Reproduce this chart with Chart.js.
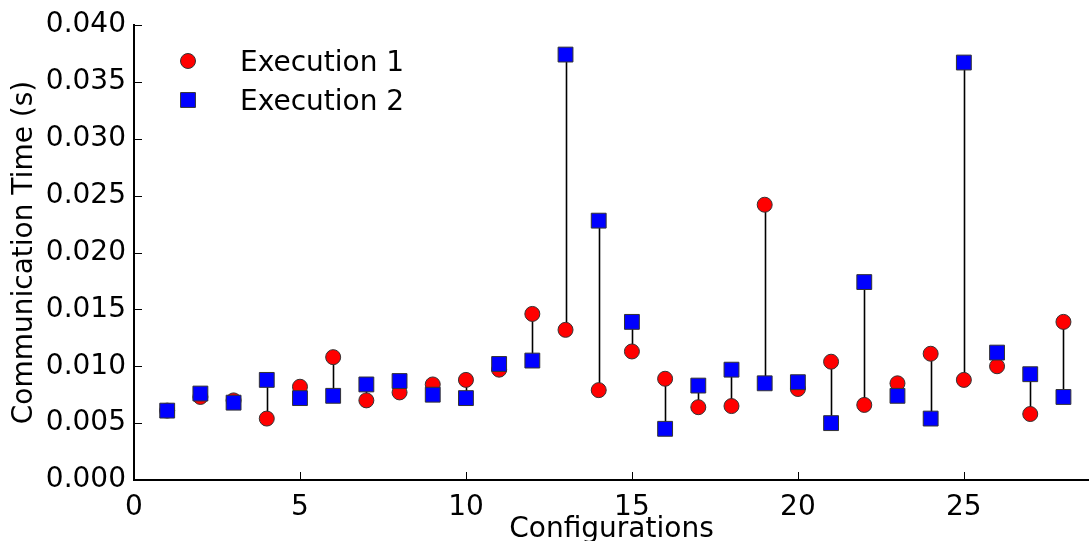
<!DOCTYPE html>
<html>
<head>
<meta charset="utf-8">
<script src="https://cdn.jsdelivr.net/npm/chart.js@4.4.1/dist/chart.umd.min.js"></script>
<style>
  html, body { margin: 0; padding: 0; background: #fff; }
  #wrap { width: 1089px; height: 541px; }
</style>
</head>
<body>
<div id="wrap"><canvas id="myChart" width="1089" height="541"></canvas></div>
<script>
// configurations 1..28, times in seconds
var configs = [1, 2, 3, 4, 5, 6, 7, 8, 9, 10, 11, 12, 13, 14, 15, 16, 17, 18, 19, 20, 21, 22, 23, 24, 25, 26, 27, 28];
var exec1 = [0.0061, 0.0073, 0.0070, 0.0054, 0.0082, 0.0108, 0.0070, 0.0077, 0.0084, 0.0088,
             0.0097, 0.0146, 0.0132, 0.0079, 0.0113, 0.0089, 0.0064, 0.0065, 0.0242, 0.0080,
             0.0104, 0.0066, 0.0085, 0.0111, 0.0088, 0.0100, 0.0058, 0.0139];
var exec2 = [0.0061, 0.0076, 0.0068, 0.0088, 0.0072, 0.0074, 0.0084, 0.0087, 0.0075, 0.0072,
             0.0102, 0.0105, 0.0374, 0.0228, 0.0139, 0.0045, 0.0083, 0.0097, 0.0085, 0.0086,
             0.0050, 0.0174, 0.0074, 0.0054, 0.0367, 0.0112, 0.0093, 0.0073];
var seriesNames = ["Execution 1", "Execution 2"];
var yTicks = [0, 0.005, 0.010, 0.015, 0.020, 0.025, 0.030, 0.035, 0.040];
var xTicks = [0, 5, 10, 15, 20, 25];

var FONT = "'DejaVu Sans', 'Liberation Sans', sans-serif";
var FS = 28;

const toPts = (ys) => configs.map((c, i) => ({x: c, y: ys[i]}));

// black line joining the two runs of each configuration
const stems = {
  id: 'stems',
  beforeDatasetsDraw(chart) {
    const {ctx, scales: {x, y}} = chart;
    ctx.save();
    ctx.strokeStyle = '#000';
    ctx.lineWidth = 1.6;
    configs.forEach((c, i) => {
      const px = Math.round(x.getPixelForValue(c)) + 0.5;
      ctx.beginPath();
      ctx.moveTo(px, y.getPixelForValue(exec1[i]));
      ctx.lineTo(px, y.getPixelForValue(exec2[i]));
      ctx.stroke();
    });
    ctx.restore();
  }
};

// inward tick marks + legend in the upper left corner
const extras = {
  id: 'extras',
  afterDraw(chart) {
    const {ctx, chartArea: a, scales: {x, y}} = chart;
    ctx.save();
    ctx.strokeStyle = '#000';
    ctx.lineWidth = 1;
    yTicks.forEach(v => {
      const py = Math.round(y.getPixelForValue(v)) + 0.5;
      ctx.beginPath(); ctx.moveTo(a.left, py); ctx.lineTo(a.left + 8, py); ctx.stroke();
    });
    xTicks.forEach(v => {
      const px = Math.round(x.getPixelForValue(v)) + 0.5;
      ctx.beginPath(); ctx.moveTo(px, a.bottom); ctx.lineTo(px, a.bottom - 8); ctx.stroke();
    });

    const items = [
      {style: 'circle', color: '#ff0000', r: 7.5, y: 61},
      {style: 'rect', color: '#0000ff', r: 10.5, y: 100}
    ];
    items.forEach((it, i) => {
      ctx.fillStyle = it.color;
      ctx.strokeStyle = '#333';
      ctx.lineWidth = 1;
      Chart.helpers.drawPoint(ctx, {pointStyle: it.style, radius: it.r, borderWidth: 1}, 188, it.y);
      ctx.fillStyle = '#000';
      ctx.font = FS + 'px ' + FONT;
      ctx.textBaseline = 'alphabetic';
      ctx.textAlign = 'left';
      ctx.fillText(seriesNames[i], 240, it.y + 10);
    });
    ctx.restore();
  }
};

new Chart("myChart", {
  type: "scatter",
  data: {
    datasets: [{
      label: seriesNames[0],
      data: toPts(exec1),
      pointStyle: 'circle',
      pointRadius: 7.5,
      pointHoverRadius: 7.5,
      backgroundColor: '#ff0000',
      borderColor: '#333',
      borderWidth: 1,
      order: 2
    }, {
      label: seriesNames[1],
      data: toPts(exec2),
      pointStyle: 'rect',
      pointRadius: 10.5,
      pointHoverRadius: 10.5,
      backgroundColor: '#0000ff',
      borderColor: '#333',
      borderWidth: 1,
      order: 1
    }]
  },
  options: {
    responsive: false,
    animation: false,
    layout: {autoPadding: false, padding: {top: 25, right: 0, left: 0, bottom: 0}},
    plugins: {legend: {display: false}, tooltip: {enabled: false}},
    scales: {
      x: {
        type: 'linear',
        min: 0,
        max: 28.77,
        afterBuildTicks: (s) => { s.ticks = xTicks.map(v => ({value: v})); },
        afterFit: (s) => { s.height = 61; },
        grid: {display: false},
        border: {display: true, color: '#000', width: 2},
        ticks: {color: '#000', padding: 3, maxRotation: 0, font: {family: FONT, size: FS}},
        title: {display: true, text: 'Configurations', color: '#000', padding: 0,
                font: {family: FONT, size: FS, lineHeight: 0.8}}
      },
      y: {
        min: 0,
        max: 0.04,
        afterBuildTicks: (s) => { s.ticks = yTicks.map(v => ({value: v})); },
        afterFit: (s) => { s.width = 134; },
        grid: {display: false},
        border: {display: true, color: '#000', width: 2},
        ticks: {color: '#000', padding: 0, callback: (v) => v.toFixed(3),
                font: {family: FONT, size: FS}},
        title: {display: true, text: 'Communication Time (s)', color: '#000', padding: {top: 8, bottom: 0},
                font: {family: FONT, size: FS}}
      }
    }
  },
  plugins: [stems, extras]
});
</script>
</body>
</html>
